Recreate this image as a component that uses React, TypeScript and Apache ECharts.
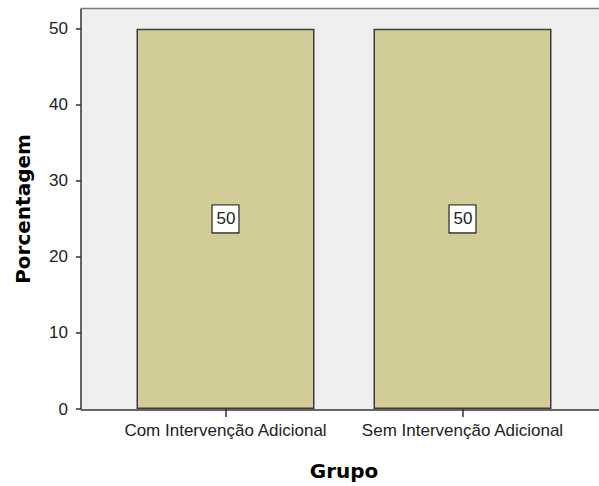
import React, { useEffect, useRef } from "react";
import * as echarts from "echarts";

const categories = ["Com Intervenção Adicional", "Sem Intervenção Adicional"];
const percentages = [50, 50];
const yTicks = [0, 10, 20, 30, 40, 50];

export default function App() {
  const ref = useRef<HTMLDivElement>(null);

  useEffect(() => {
    if (!ref.current) return;
    const chart = echarts.init(ref.current, undefined, { renderer: "svg" });
    const font = "'Liberation Sans', Arial, sans-serif";
    const titleFont = "'DejaVu Sans', sans-serif";
    chart.setOption({
      animation: false,
      backgroundColor: "#ffffff",
      graphic: [
        {
          type: "rect",
          z: -10,
          shape: { x: 81, y: 9, width: 518, height: 401 },
          style: { fill: "#efefef" },
        },
        {
          type: "line",
          z: 10,
          shape: { x1: 81, y1: 8.5, x2: 599, y2: 8.5 },
          style: { stroke: "#7a7a7a", lineWidth: 1.5 },
        },
        {
          type: "line",
          z: 10,
          shape: { x1: 81, y1: 410, x2: 599, y2: 410 },
          style: { stroke: "#333333", lineWidth: 1.5 },
        },
      ],
      grid: { left: 107, right: 18, top: 9, bottom: 76, containLabel: false },
      xAxis: {
        type: "category",
        data: categories,
        name: "Grupo",
        nameLocation: "middle",
        nameGap: 52,
        nameTextStyle: { fontFamily: titleFont, fontSize: 20, fontWeight: "bold", color: "#000" },
        axisLine: { show: false },
        axisTick: {
          show: true,
          interval: 0,
          alignWithLabel: true,
          length: 8,
          lineStyle: { color: "#333", width: 1.5 },
        },
        axisLabel: { interval: 0, hideOverlap: false, fontFamily: font, fontSize: 17, color: "#222", margin: 13 },
      },
      yAxis: {
        type: "value",
        min: 0,
        max: 52.6,
        interval: 10,
        offset: 26,
        name: "Porcentagem",
        nameLocation: "middle",
        nameGap: 48,
        nameRotate: 90,
        nameTextStyle: { fontFamily: titleFont, fontSize: 20, fontWeight: "bold", color: "#000" },
        axisLine: { show: true, lineStyle: { color: "#333", width: 1.5 } },
        axisTick: { show: true, length: 5, lineStyle: { color: "#333", width: 1.5 } },
        axisLabel: {
          fontFamily: font,
          fontSize: 17,
          color: "#222",
          margin: 13,
          showMaxLabel: false,
          formatter: (v: number) => (yTicks.includes(v) ? String(v) : ""),
        },
        splitLine: { show: false },
      },
      series: [
        {
          type: "bar",
          data: percentages,
          barWidth: 178,
          itemStyle: { color: "#d2cd96", borderColor: "#3c3c3c", borderWidth: 1.5 },
          label: {
            show: true,
            position: "inside",
            fontFamily: font,
            fontSize: 17,
            color: "#222",
            backgroundColor: "#ffffff",
            borderColor: "#000000",
            borderWidth: 1,
            padding: [5, 3, 5, 4],
          },
        },
      ],
    });
    return () => chart.dispose();
  }, []);

  return (
    <div
      ref={ref}
      style={{ position: "fixed", left: 0, top: 0, width: 599, height: 486 }}
    />
  );
}
